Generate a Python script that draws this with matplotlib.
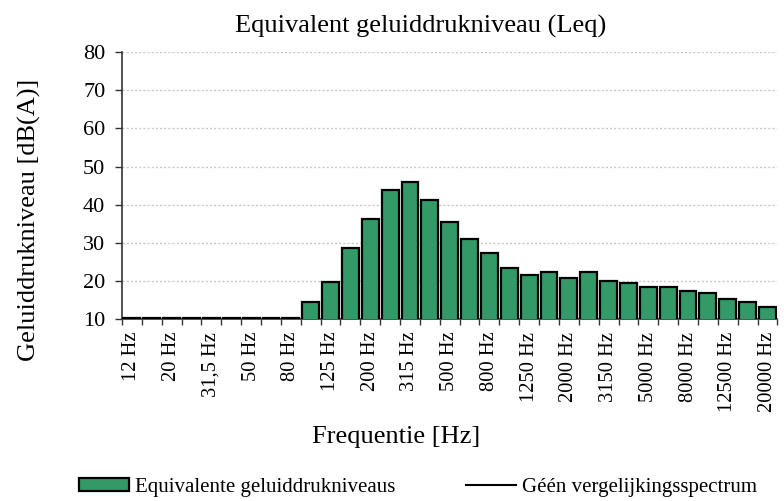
import matplotlib
matplotlib.use("Agg")
import matplotlib.pyplot as plt
import numpy as np
from matplotlib.patches import Patch
from matplotlib.lines import Line2D

plt.rcParams['font.family'] = ['Liberation Serif', 'DejaVu Serif']

bands = ["12 Hz", "16 Hz", "20 Hz", "25 Hz", "31,5 Hz", "40 Hz", "50 Hz", "63 Hz", "80 Hz",
         "100 Hz", "125 Hz", "160 Hz", "200 Hz", "250 Hz", "315 Hz", "400 Hz", "500 Hz",
         "630 Hz", "800 Hz", "1000 Hz", "1250 Hz", "1600 Hz", "2000 Hz", "2500 Hz",
         "3150 Hz", "4000 Hz", "5000 Hz", "6300 Hz", "8000 Hz", "10000 Hz", "12500 Hz",
         "16000 Hz", "20000 Hz"]
leq = [10.3, 10.3, 10.3, 10.3, 10.3, 10.3, 10.3, 10.3, 10.3,
       14.4, 19.8, 28.6, 36.2, 43.8, 45.9, 41.2, 35.5,
       31.0, 27.3, 23.4, 21.6, 22.3, 20.9, 22.3,
       20.0, 19.5, 18.4, 18.4, 17.4, 16.9, 15.4,
       14.5, 13.1]
yticks = [10, 20, 30, 40, 50, 60, 70, 80]

fig = plt.figure(figsize=(7.84, 5.01), dpi=100)
ax = fig.add_axes([0.1556, 0.363, 0.836, 0.533])

x = np.arange(len(bands))
ax.bar(x, leq, width=0.85, color="#339966", edgecolor="black", linewidth=1.6, zorder=3)

ax.set_ylim(10, 80)
ax.set_xlim(-0.5, len(bands) - 0.5)
ax.set_yticks(yticks)
ax.yaxis.grid(True, linestyle=(0, (1.5, 1.5)), color="#c8c8c8", linewidth=1.0, zorder=0)

ax.set_xticks(x[::2])
ax.set_xticklabels(bands[::2], rotation=90, fontsize=14.8)
ax.set_xticks(np.arange(len(bands) + 1) - 0.5, minor=True)
ax.tick_params(axis='x', which='major', length=0, pad=9)
ax.tick_params(axis='x', which='minor', length=4.5, width=1.0, direction='out', color="#333333")
ax.tick_params(axis='y', labelsize=16, length=5, width=1.0, direction='out', pad=7, color="#333333")

for s in ["top", "right"]:
    ax.spines[s].set_visible(False)
for s in ["left", "bottom"]:
    ax.spines[s].set_linewidth(1.2)
    ax.spines[s].set_color("#333333")

fig.text(0.537, 0.934, "Equivalent geluiddrukniveau (Leq)", fontsize=19,
         ha="center", va="baseline")
fig.text(0.505, 0.116, "Frequentie [Hz]", fontsize=19, ha="center", va="baseline")
fig.text(0.037, 0.561, "Geluiddrukniveau [dB(A)]", fontsize=19, rotation=90,
         ha="center", va="center")

handles = [Patch(facecolor="#339966", edgecolor="black", linewidth=1.6),
           Line2D([], [], color="black", linewidth=1.5)]
labels = ["Equivalente geluiddrukniveaus", "Géén vergelijkingsspectrum"]
fig.legend(handles, labels, loc="center", bbox_to_anchor=(0.533, 0.027), ncol=2,
           frameon=False, fontsize=15, columnspacing=3.4, handlelength=2.4,
           handletextpad=0.3, handleheight=0.6, borderaxespad=0)

fig.savefig("out.png", dpi=100)
